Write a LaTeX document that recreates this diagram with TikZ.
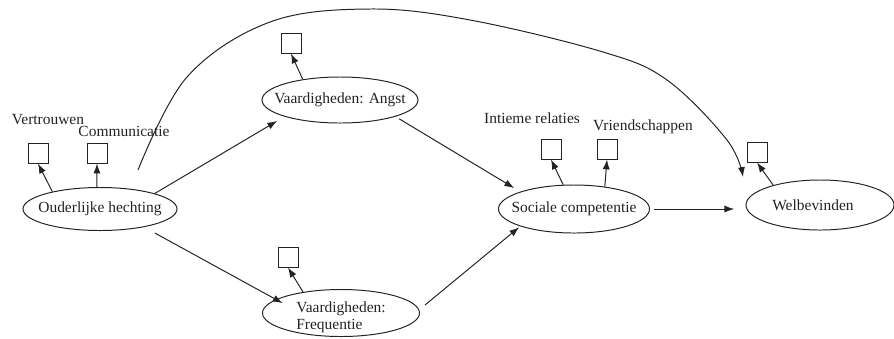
\documentclass[tikz,border=0pt]{standalone}
\usepackage{fontspec}
\setmainfont{Liberation Serif}
\usepackage{tikz}
\usetikzlibrary{shapes.geometric}
\usetikzlibrary{arrows,arrows.meta}
\usetikzlibrary{calc}
\definecolor{lijn}{RGB}{35,35,35}

\begin{document}
\begin{tikzpicture}[x=0.025cm, y=-0.025cm, lijn, line width=0.7pt,
    font=\fontsize{11}{12}\selectfont,
    latent/.style={draw, ellipse, inner sep=0pt},
    indicator/.style={draw, rectangle, minimum size=0.5cm, inner sep=0pt},
    pijl/.style={-{Latex[length=7pt,width=5pt]}}]

	\useasboundingbox (0,0) rectangle (894,338);

	% latente variabelen
	\node[latent, minimum width=3.85cm, minimum height=1.075cm, label={center:Ouderlijke hechting}] (oh) at (100,209) {};
	\node[latent, minimum width=3.9cm, minimum height=1.15cm, label={center:{Vaardigheden: Angst}}] (va) at (340,100) {};
	\node[latent, minimum width=3.925cm, minimum height=1.175cm, label={[align=left, yshift=-3pt]center:{Vaardigheden:\\Frequentie}}] (vf) at (341,313) {};
	\node[latent, minimum width=3.775cm, minimum height=1.2cm, label={center:Sociale competentie}] (sc) at (574,209) {};
	\node[latent, minimum width=3.7cm, minimum height=1.25cm, label={[xshift=-5pt]center:Welbevinden}] (wb) at (820,205) {};

	% indicatoren
	\node[indicator] (vt) at (38,153) {};
	\node[indicator] (cm) at (97,153) {};
	\node[indicator] (ang) at (291,43) {};
	\node[indicator] (frq) at (288,257) {};
	\node[indicator] (ir) at (551,149) {};
	\node[indicator] (vr) at (607,149) {};
	\node[indicator] (wbi) at (757,152) {};

	\node (tvt) at (48,120) {Vertrouwen};
	\node (tcm) at (124,131) {Communicatie};
	\node (tir) at (532,118) {Intieme relaties};
	\node (tvr) at (643,127) {Vriendschappen};

	\draw[pijl] (oh.160) -- (vt.south);
	\draw[pijl] (oh.98) -- (cm.south);
	\draw[pijl] (va.151) -- (ang.south);
	\draw[pijl] (vf.151) -- (frq.south);
	\draw[pijl] (sc.114) -- (ir.south);
	\draw[pijl] (sc.36) -- (vr.south);
	\draw[pijl] (wb.157) -- (wbi.south);

	% structureel model
	\draw[pijl, shorten >=6pt] (oh.north east) -- (va.south west);
	\draw[pijl, shorten >=2pt] ([yshift=-6pt]oh.south east) -- ([yshift=-6pt]vf.north west);
	\draw[pijl, shorten <=3pt, shorten >=5pt] (va.south east) -- (sc.north west);
	\draw[pijl, shorten >=1pt] ($(vf.east)+(5,-8)$) -- (sc.south west);
	\draw[pijl, shorten <=3pt, shorten >=8pt] (sc.east) -- (sc.east -| wb.west);

	\coordinate (boog) at (138,170);
	\draw[pijl] plot[smooth, tension=0.6] coordinates {(boog) (187,77) (270,22) (370,9) (470,20) (603,52) (667,80) (727,140) (743,177)};

\end{tikzpicture}
\end{document}
